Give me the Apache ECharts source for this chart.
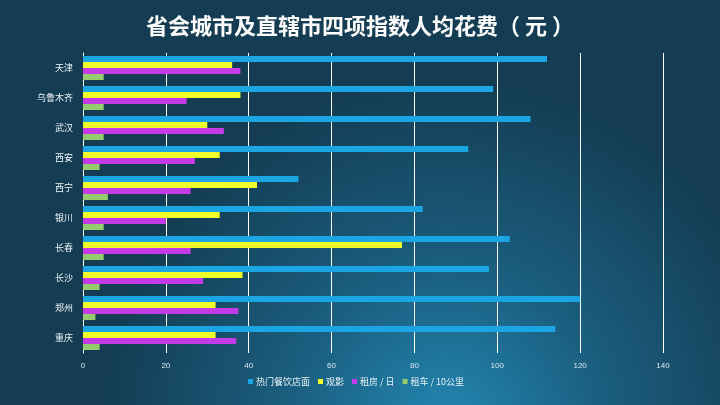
<!DOCTYPE html>
<html>
<head>
<meta charset="utf-8">
<script src="https://cdn.jsdelivr.net/npm/echarts@6/dist/echarts.min.js"></script>
<style>html,body{margin:0;padding:0;}#c{width:720px;height:405px;}</style>
</head>
<body>
<div id="c"></div>
<script>
const cities = ['天津','乌鲁木齐','武汉','西安','西宁','银川','长春','长沙','郑州','重庆'];
const seriesNames = ['热门餐饮店面','观影','租房 / 日','租车 / 10公里'];
const restaurant = [112, 99, 108, 93, 52, 82, 103, 98, 120, 114];
const movie = [36, 38, 30, 33, 42, 33, 77, 38.5, 32, 32];
const rent = [38, 25, 34, 27, 26, 20, 26, 29, 37.5, 37];
const car = [5, 5, 5, 4, 6, 5, 5, 4, 3, 4];
const colors = ['#1ba6e3', '#f0ff2a', '#c33ae6', '#95cb6c'];

const chart = echarts.init(document.getElementById('c'));
const values = [restaurant, movie, rent, car];
chart.setOption({
  backgroundColor: {
    type: 'radial', x: 0.62, y: 1.05, r: 0.85,
    colorStops: [{offset: 0, color: '#2387b2'}, {offset: 0.45, color: '#1b5f80'}, {offset: 1, color: '#143d53'}]
  },
  title: {
    text: '省会城市及直辖市四项指数人均花费（ 元 ）',
    left: 'center', top: 10,
    textStyle: {color: '#ffffff', fontSize: 22, fontWeight: 'bold', fontFamily: 'Noto Sans CJK SC'}
  },
  legend: {
    data: seriesNames, left: 243, top: 372,
    itemWidth: 5, itemHeight: 5, itemGap: 8, icon: 'rect',
    textStyle: {color: '#e8f2f8', fontSize: 9, fontFamily: 'Noto Sans CJK SC', padding: [0, 0, 0, -2]}
  },
  grid: {left: 83, right: 57, top: 53, bottom: 52, containLabel: false},
  xAxis: {
    type: 'value', min: 0, max: 140, interval: 20,
    axisLine: {show: false}, axisTick: {show: false},
    splitLine: {show: true, lineStyle: {color: '#ffffff', width: 1}},
    axisLabel: {color: '#d6e6ef', fontSize: 8, margin: 9}
  },
  yAxis: {
    type: 'category', data: cities, inverse: true,
    axisLine: {show: true, lineStyle: {color: '#ffffff', width: 1}},
    axisTick: {show: false},
    axisLabel: {color: '#eef3f6', fontSize: 9, margin: 10, fontFamily: 'Noto Sans CJK SC'}
  },
  series: seriesNames.map((n, i) => ({
    name: n, type: 'bar', data: values[i],
    barGap: '0%', barCategoryGap: '20%',
    itemStyle: {color: colors[i]}
  }))
});
</script>
</body>
</html>
